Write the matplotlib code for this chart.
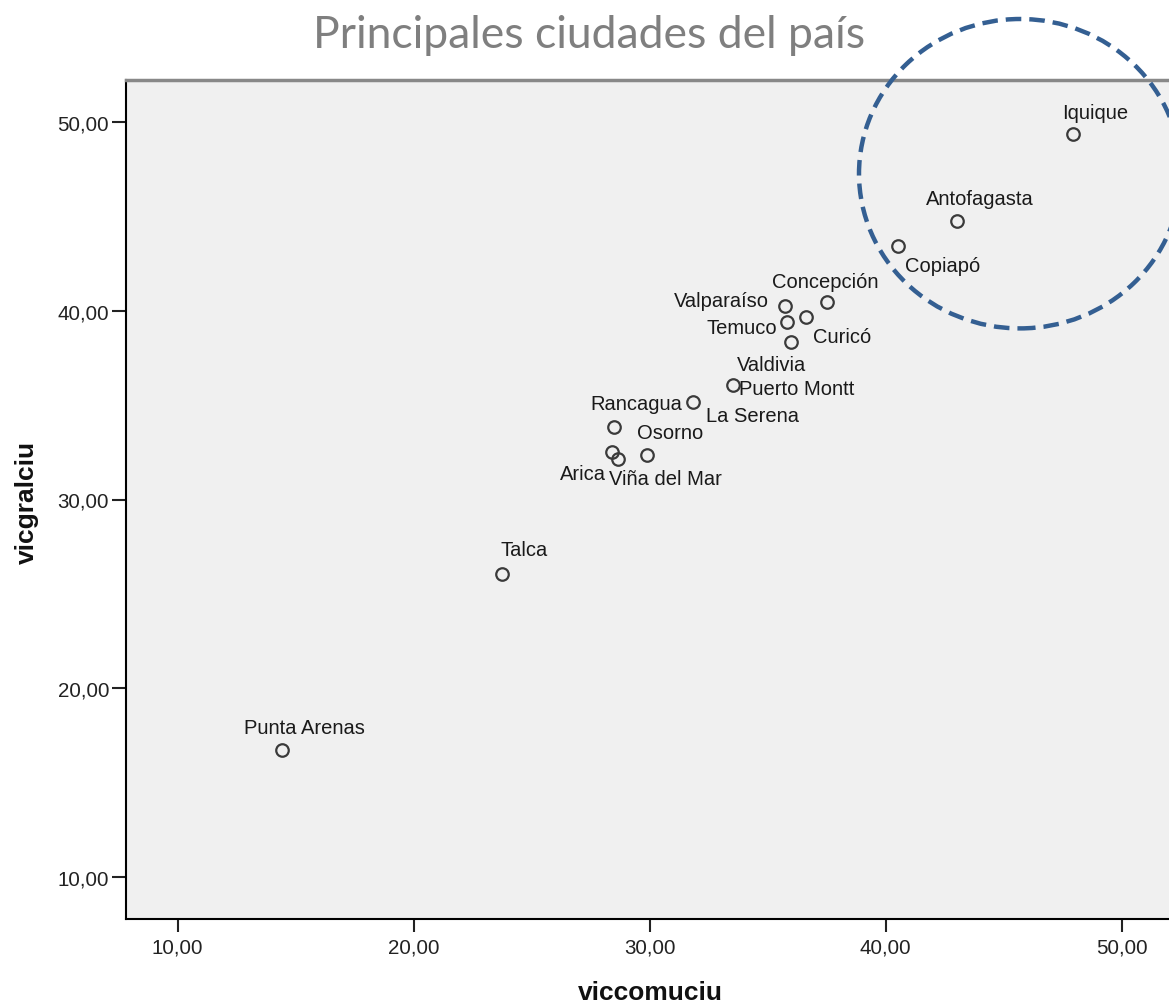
import matplotlib
matplotlib.use('Agg')
import matplotlib.pyplot as plt
from matplotlib.patches import Ellipse

# values
cities = ['Iquique', 'Antofagasta', 'Copiapó', 'Concepción', 'Valparaíso', 'Curicó',
          'Temuco', 'Valdivia', 'Puerto Montt', 'La Serena', 'Rancagua', 'Arica',
          'Viña del Mar', 'Osorno', 'Talca', 'Punta Arenas']
viccomuciu = [47.95, 43.03, 40.53, 37.50, 35.73, 36.62, 35.83, 35.99, 33.54, 31.82,
              28.50, 28.39, 28.67, 29.90, 23.73, 14.42]
vicgralciu = [49.35, 44.76, 43.40, 40.44, 40.23, 39.64, 39.38, 38.32, 36.06, 35.15,
              33.85, 32.50, 32.14, 32.37, 26.06, 16.75]
ticks = [10, 20, 30, 40, 50]
tick_labels = ['10,00', '20,00', '30,00', '40,00', '50,00']

# label offsets in pixels (dx, dy), text centred
label_offsets = {
    'Iquique': (22, 22), 'Antofagasta': (23, 22), 'Copiapó': (44, -19),
    'Concepción': (-2, 21), 'Valparaíso': (-64, 6), 'Curicó': (36, -19),
    'Temuco': (-46, -5), 'Valdivia': (-20, -22), 'Puerto Montt': (63, -3),
    'La Serena': (60, -13), 'Rancagua': (22, 23), 'Arica': (-29, -21),
    'Viña del Mar': (47, -19), 'Osorno': (23, 22), 'Talca': (22, 24),
    'Punta Arenas': (22, 22),
}

plt.rcParams['font.family'] = ['Liberation Sans', 'DejaVu Sans']

fig = plt.figure(figsize=(11.69, 10.04), dpi=100)
ax = fig.add_axes([125.7 / 1169, 1 - 920 / 1004, 1 - 125.7 / 1169, (920 - 81) / 1004])
ax.set_facecolor('#f0f0f0')

ax.plot(viccomuciu, vicgralciu, 'o', ms=9, mfc='none', mec='#3a3a3a', mew=1.6)
for name, x, y in zip(cities, viccomuciu, vicgralciu):
    dx, dy = label_offsets[name]
    ax.annotate(name, (x, y), xytext=(dx, dy), textcoords='offset pixels',
                ha='center', va='center', fontsize=14.5, color='#1a1a1a')

ax.set_xlim(7.797, 52.0)
ax.set_ylim(7.79, 52.21)
ax.set_xticks(ticks)
ax.set_xticklabels(tick_labels)
ax.set_yticks(ticks)
ax.set_yticklabels(tick_labels)
ax.tick_params(axis='x', length=9.5, width=1.5, pad=4, labelsize=14.8, colors='#222222')
ax.tick_params(axis='y', length=10, width=1.5, pad=2, labelsize=14.8, colors='#222222')

ax.spines['right'].set_visible(False)
ax.spines['left'].set_linewidth(1.5)
ax.spines['bottom'].set_linewidth(1.5)
ax.spines['top'].set_color('#888888')
ax.spines['top'].set_linewidth(2.5)

fig.text(650 / 1169, 1 - 993 / 1004, 'viccomuciu', ha='center', va='center',
         fontsize=19, fontweight='bold', color='#111111')
fig.text(27 / 1169, 1 - 502 / 1004, 'vicgralciu', ha='center', va='center',
         rotation=90, fontsize=19, fontweight='bold', color='#111111')

fig.text(589 / 1169, 1 - 35 / 1004, 'Principales ciudades del país', ha='center',
         va='center', fontsize=32, color='#7f7f7f', family=['Lato', 'DejaVu Sans'])

circle = Ellipse((1020 / 1169, 1 - 174.7 / 1004), 322 / 1169, 309.4 / 1004,
                 transform=fig.transFigure, fill=False, ec='#345f92', lw=3.2,
                 ls=(0, (3.5, 1.8)), clip_on=False)
fig.add_artist(circle)

fig.savefig('out.png', dpi=100)
